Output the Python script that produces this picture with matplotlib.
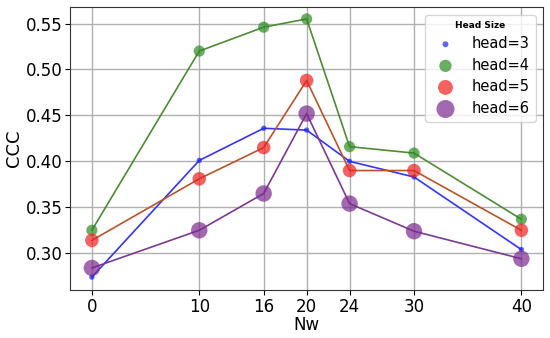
import matplotlib
matplotlib.use("Agg")
import matplotlib.pyplot as plt

# Nw values on the x axis
nw = [0, 10, 16, 20, 24, 30, 40]

# CCC per head size
head3 = [0.274, 0.401, 0.436, 0.434, 0.400, 0.383, 0.304]
head4 = [0.325, 0.520, 0.546, 0.555, 0.416, 0.409, 0.337]
head5 = [0.314, 0.381, 0.415, 0.488, 0.390, 0.390, 0.325]
head6 = [0.284, 0.325, 0.365, 0.452, 0.354, 0.324, 0.294]

labels = ["head=3", "head=4", "head=5", "head=6"]
series = [head3, head4, head5, head6]
marker_colors = ["#2222ee", "#2e8b22", "#f02020", "#7b2a8f"]
line_colors = ["#3535f0", "#4f8a35", "#b5542c", "#7a3a90"]
sizes = [15, 65, 95, 140]


def main():
    fig, ax = plt.subplots(figsize=(5.5, 3.38), dpi=100)

    for ys, lab, mc, lc, s in zip(series, labels, marker_colors, line_colors, sizes):
        ax.plot(nw, ys, "-", color=lc, linewidth=1.2, zorder=2)
        ax.scatter(nw, ys, s=s, color=mc, alpha=0.7, label=lab,
                   edgecolors="none", zorder=3)

    ax.set_xticks(nw)
    ax.set_yticks([0.30, 0.35, 0.40, 0.45, 0.50, 0.55])
    ax.set_xlim(-2, 42)
    ax.set_ylim(0.26, 0.5675)
    ax.tick_params(labelsize=12, pad=2)
    ax.set_xlabel("Nw", fontsize=12, labelpad=0)
    ax.set_ylabel("CCC", fontsize=13, labelpad=2)
    ax.grid(True, color="#b0b0b0", linewidth=1)
    ax.set_axisbelow(True)
    for sp in ax.spines.values():
        sp.set_color("#333333")

    leg = ax.legend(title="Head Size", fontsize=10.5, loc="upper right",
                    title_fontproperties={"weight": "bold", "size": 6.5},
                    labelspacing=0.45, borderaxespad=0.5, markerscale=1.1)
    leg.get_frame().set_edgecolor("#cccccc")

    fig.subplots_adjust(left=0.128, right=0.987, top=0.978, bottom=0.142)
    fig.savefig("out.png")


if __name__ == "__main__":
    main()
